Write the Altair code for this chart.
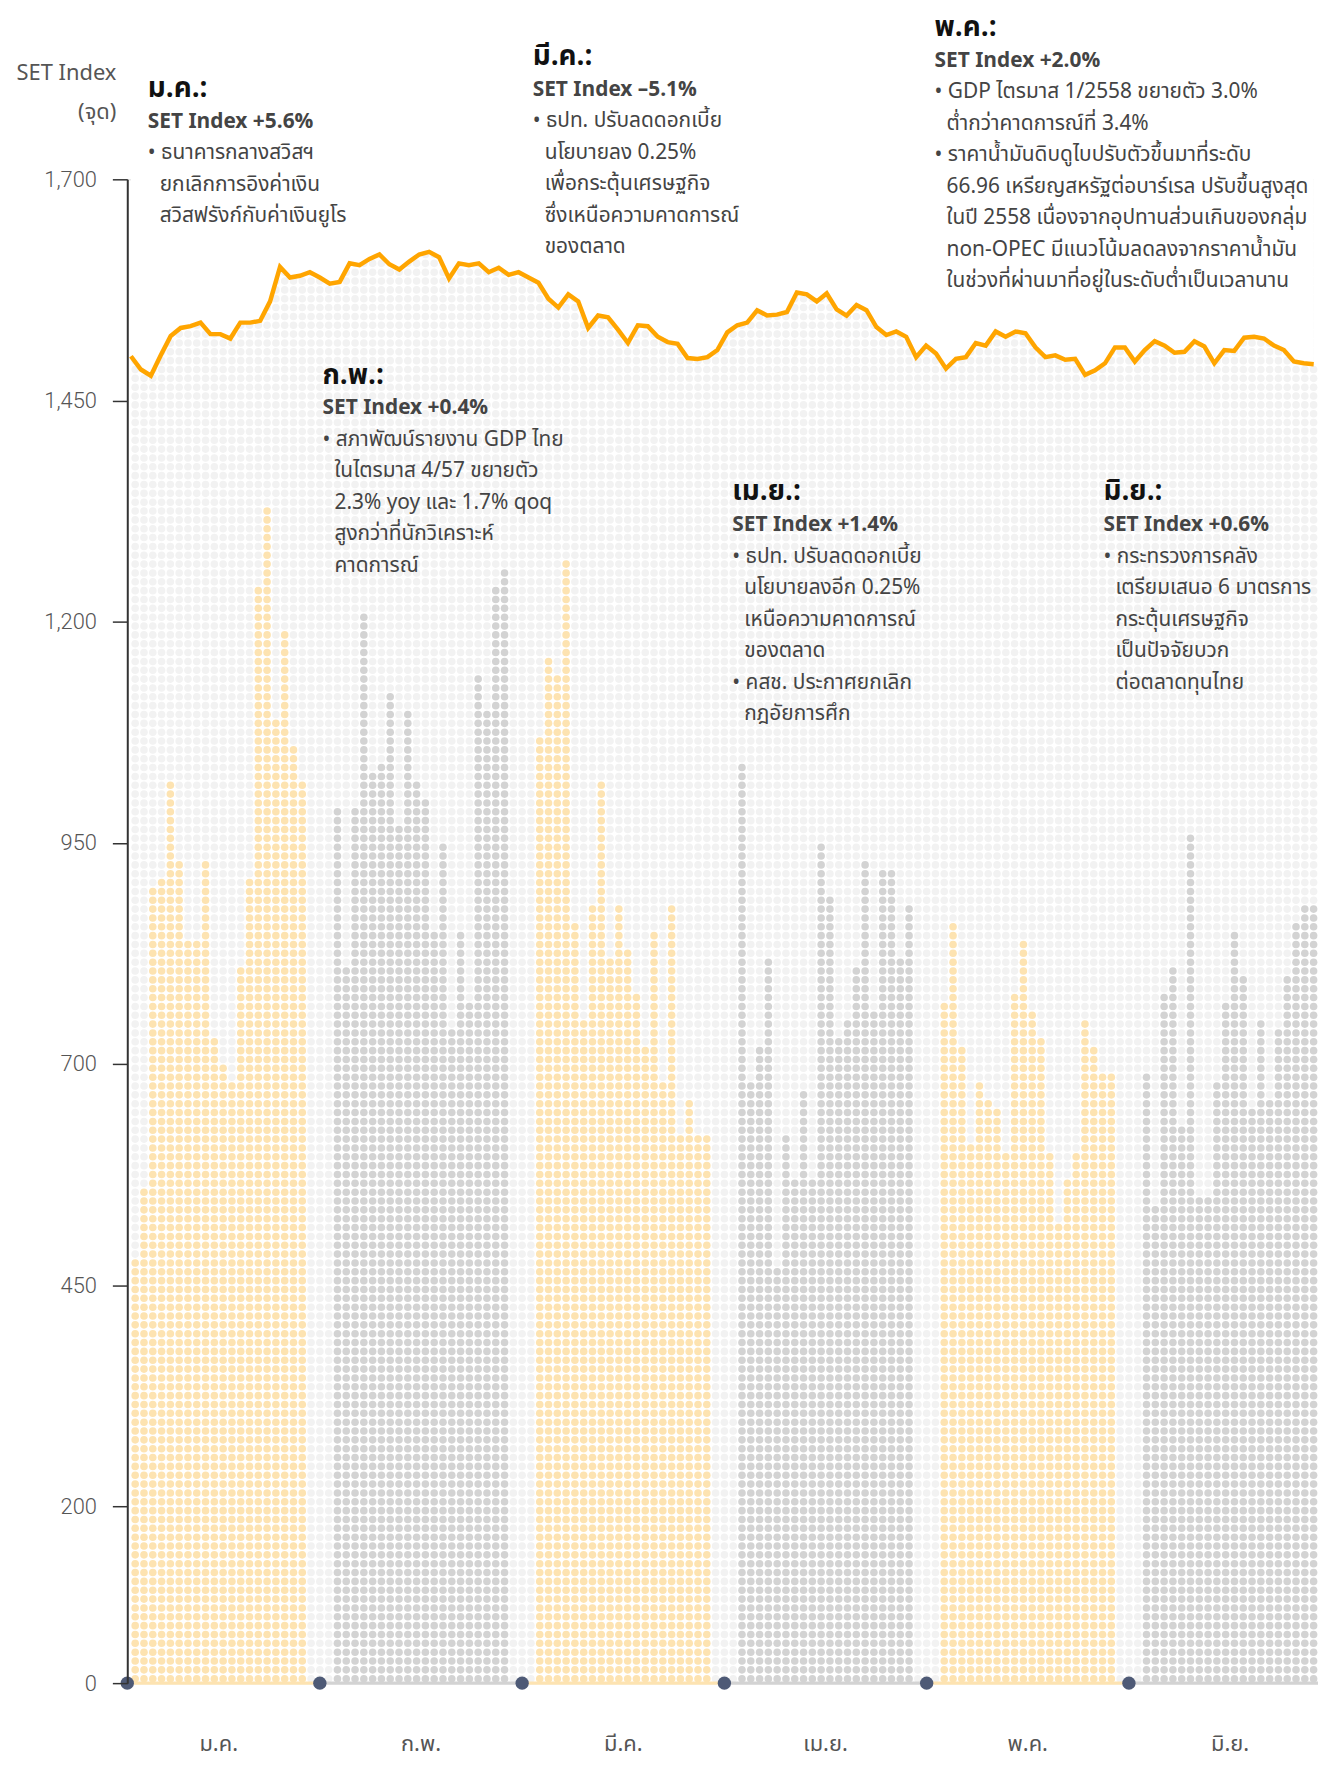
import altair as alt
import pandas as pd

alt.data_transformers.disable_max_rows()

# ---------------- data ----------------
month_names = ["ม.ค.", "ก.พ.", "มี.ค.", "เม.ย.", "พ.ค.", "มิ.ย."]

jan_vals = [481, 561, 896, 909, 1016, 928, 839, 839, 928, 729, 700, 681, 808, 909, 1244, 1327, 1086, 1187, 1057, 1019]
feb_vals = [987, 808, 987, 1206, 1029, 1035, 1116, 966, 1099, 1023, 1004, 846, 947, 738, 846, 770, 1137, 1099, 1244, 1257]
mar_vals = [1067, 1156, 1143, 1267, 858, 747, 877, 1016, 820, 877, 827, 776, 725, 848, 675, 877, 620, 662, 624, 618]
apr_vals = [1035, 681, 719, 820, 472, 624, 567, 668, 570, 947, 890, 732, 747, 810, 928, 757, 922, 915, 820, 877]
may_vals = [770, 865, 725, 611, 675, 662, 649, 599, 782, 839, 757, 732, 603, 523, 573, 599, 751, 719, 687, 694]
jun_vals = [687, 542, 776, 814, 630, 959, 554, 554, 681, 770, 846, 795, 649, 751, 662, 738, 795, 858, 884, 884]
bar_values = [jan_vals, feb_vals, mar_vals, apr_vals, may_vals, jun_vals]

set_index = [1500, 1485, 1478, 1501, 1523, 1532, 1534, 1538, 1525, 1525,
             1520, 1538, 1538, 1540, 1562, 1601, 1589, 1591, 1595, 1589,
             1582, 1584, 1605, 1603, 1610, 1615, 1604, 1598, 1607, 1615,
             1618, 1612, 1588, 1605, 1603, 1605, 1595, 1600, 1592, 1595,
             1589, 1583, 1565, 1555, 1570, 1562, 1532, 1546, 1544, 1530,
             1515, 1535, 1534, 1522, 1516, 1514, 1498, 1497, 1499, 1507,
             1527, 1535, 1538, 1552, 1546, 1547, 1550, 1572, 1570, 1562,
             1571, 1553, 1546, 1558, 1552, 1533, 1524, 1528, 1522, 1499,
             1512, 1503, 1486, 1497, 1499, 1515, 1512, 1528, 1522, 1528,
             1526, 1510, 1499, 1501, 1496, 1497, 1479, 1484, 1492, 1510,
             1510, 1494, 1507, 1517, 1512, 1504, 1505, 1517, 1511, 1492,
             1507, 1506, 1521, 1522, 1520, 1512, 1507, 1494, 1492, 1491]

y_ticks = [0, 200, 450, 700, 950, 1200, 1450, 1700]
y_title = ["SET Index", "(จุด)"]

notes_title = ["ม.ค.:", "ก.พ.:", "มี.ค.:", "เม.ย.:", "พ.ค.:", "มิ.ย.:"]
notes_sub = ["SET Index +5.6%", "SET Index +0.4%", "SET Index –5.1%",
             "SET Index +1.4%", "SET Index +2.0%", "SET Index +0.6%"]
notes_body = [
    ["• ธนาคารกลางสวิสฯ", "ยกเลิกการอิงค่าเงิน", "สวิสฟรังก์กับค่าเงินยูโร"],
    ["• สภาพัฒน์รายงาน GDP ไทย", "ในไตรมาส 4/57 ขยายตัว", "2.3% yoy และ 1.7% qoq",
     "สูงกว่าที่นักวิเคราะห์", "คาดการณ์"],
    ["• ธปท. ปรับลดดอกเบี้ย", "นโยบายลง 0.25%", "เพื่อกระตุ้นเศรษฐกิจ",
     "ซึ่งเหนือความคาดการณ์", "ของตลาด"],
    ["• ธปท. ปรับลดดอกเบี้ย", "นโยบายลงอีก 0.25%", "เหนือความคาดการณ์",
     "ของตลาด", "• คสช. ประกาศยกเลิก", "กฎอัยการศึก"],
    ["• GDP ไตรมาส 1/2558 ขยายตัว 3.0%", "ต่ำกว่าคาดการณ์ที่ 3.4%",
     "•  ราคาน้ำมันดิบดูไบปรับตัวขึ้นมาที่ระดับ", "66.96 เหรียญสหรัฐต่อบาร์เรล ปรับขึ้นสูงสุด",
     "ในปี 2558  เนื่องจากอุปทานส่วนเกินของกลุ่ม", "non-OPEC มีแนวโน้มลดลงจากราคาน้ำมัน",
     "ในช่วงที่ผ่านมาที่อยู่ในระดับต่ำเป็นเวลานาน"],
    ["• กระทรวงการคลัง", "เตรียมเสนอ 6 มาตรการ", "กระตุ้นเศรษฐกิจ",
     "เป็นปัจจัยบวก", "ต่อตลาดทุนไทย"],
]

# ---------------- layout (styling, not data) ----------------
MONTH_STEP = 23          # columns per month incl. gap
COLS = MONTH_STEP * 5 + 20
DOT = 10                 # value per dot
ROWS = 170
COL_DOMAIN = [-0.9, 134.5]
DAY_DOMAIN = [-0.37, 119.43]
note_anchor = [(1.43, 1802), (21.3, 1478), (45.2, 1838), (67.9, 1346), (90.9, 1871), (110.1, 1346)]
INDENT = 1.36
STEP_SUB = 37
STEP_LINE = 35.6

FONT = "Noto Sans Thai, Noto Sans, sans-serif"
YELLOW = "#fde3b1"
GREY = "#d3d3d3"
BG = "#f2f2f2"
ORANGE = "#ffa500"

# ---------------- tables ----------------
bar_rows, heights = [], {}
for i, vals in enumerate(bar_values):
    for j, v in enumerate(vals):
        c = MONTH_STEP * i + j
        n = int(round(v / DOT))
        heights[c] = n
        for r in range(n):
            bar_rows.append({"c": c, "y": r * DOT + DOT / 2, "t": "a" if i % 2 == 0 else "b"})
bars_df = pd.DataFrame(bar_rows)

bg_rows = []
for c in range(COLS):
    for r in range(heights.get(c, 0), ROWS):
        bg_rows.append({"c": c, "y": r * DOT + DOT / 2})
bg_df = pd.DataFrame(bg_rows)

line_df = pd.DataFrame({"k": list(range(len(set_index))), "v": set_index})
last_k = len(set_index) - 1

seg_df = pd.DataFrame({
    "b0": [COL_DOMAIN[0]] + [MONTH_STEP * i - 2 for i in range(1, 6)],
    "b1": [MONTH_STEP * i - 2 for i in range(1, 6)] + [COL_DOMAIN[1]],
    "t": ["a" if i % 2 == 0 else "b" for i in range(6)],
})
mlab_df = pd.DataFrame({"c": [MONTH_STEP * i + 9.5 for i in range(6)], "lab": month_names})

title_rows, sub_rows, body_rows = [], [], []
for i in range(6):
    x0, y0 = note_anchor[i]
    title_rows.append({"c": x0, "y": y0, "txt": notes_title[i]})
    sub_rows.append({"c": x0, "y": y0 - STEP_SUB, "txt": notes_sub[i]})
    for j, line in enumerate(notes_body[i]):
        xx = x0 if line.startswith("•") else x0 + INDENT
        body_rows.append({"c": xx, "y": y0 - STEP_SUB - STEP_LINE * (j + 1), "txt": line})
title_df, sub_df, body_df = pd.DataFrame(title_rows), pd.DataFrame(sub_rows), pd.DataFrame(body_rows)

# ---------------- scales / axis ----------------
col_scale = alt.Scale(domain=COL_DOMAIN, nice=False, zero=False)
day_scale = alt.Scale(domain=DAY_DOMAIN, nice=False, zero=False)
y_scale = alt.Scale(domain=[0, 1700], nice=False, zero=True)
tone_scale = alt.Scale(domain=["a", "b"], range=[YELLOW, GREY])
seg_scale = alt.Scale(domain=["a", "b"], range=[ORANGE, "#6b6b6b"])

yaxis = alt.Axis(values=y_ticks, format=",.0f", title=None, grid=False,
                 labelFontSize=22, labelColor="#555", labelFont="Roboto", labelFontWeight=300,
                 labelPadding=16, tickSize=15, tickColor="#333", tickWidth=1.5,
                 domainColor="#333", domainWidth=2, zindex=1)


def Y(field):
    return alt.Y(field, scale=y_scale, axis=yaxis)


def Y0():
    return alt.YDatum(0, scale=y_scale, axis=yaxis)


cx = alt.X("c:Q", scale=col_scale, axis=None)
dx = alt.X("k:Q", scale=day_scale, axis=None)

bg = alt.Chart(bg_df).mark_circle(size=58, opacity=1, color=BG).encode(x=cx, y=Y("y:Q"))

mask = alt.Chart(line_df).mark_area(color="white", opacity=1).encode(
    x=dx, y=Y("v:Q"), y2=alt.datum(1720))

mask_edge = alt.Chart(line_df).transform_filter(alt.datum.k == last_k).mark_rect(color="white").encode(
    x=dx, x2=alt.datum(DAY_DOMAIN[1] + 2), y=Y("v:Q"), y2=alt.datum(1720))

bars = alt.Chart(bars_df).mark_circle(size=58, opacity=1).encode(
    x=cx, y=Y("y:Q"), color=alt.Color("t:N", scale=tone_scale, legend=None))

line = alt.Chart(line_df).mark_line(color=ORANGE, strokeWidth=4.5).encode(x=dx, y=Y("v:Q"))

segs = alt.Chart(seg_df).mark_rule(strokeWidth=3.5).encode(
    x=alt.X("b0:Q", scale=col_scale, axis=None), x2="b1:Q", y=Y0(),
    color=alt.Color("t:N", scale=seg_scale, legend=None))

knots = alt.Chart(seg_df).mark_circle(size=180, opacity=1, color="#4e5a76").encode(
    x=alt.X("b0:Q", scale=col_scale, axis=None), y=Y0())

mlabels = alt.Chart(mlab_df).mark_text(font=FONT, fontSize=22, color="#555", dy=61,
                                       baseline="middle", align="center").encode(
    x=cx, y=Y0(), text="lab:N")

titles = alt.Chart(title_df).mark_text(font=FONT, fontSize=28, fontWeight="bold", color="#111",
                                       align="left", baseline="middle").encode(x=cx, y=Y("y:Q"), text="txt:N")
subs = alt.Chart(sub_df).mark_text(font=FONT, fontSize=21, fontWeight="bold", color="#444",
                                   align="left", baseline="middle").encode(x=cx, y=Y("y:Q"), text="txt:N")
body = alt.Chart(body_df).mark_text(font=FONT, fontSize=21, color="#444",
                                    align="left", baseline="middle").encode(x=cx, y=Y("y:Q"), text="txt:N")

yt1 = alt.Chart(pd.DataFrame({"txt": [y_title[0]]})).mark_text(
    font=FONT, fontSize=22, color="#555", align="right", baseline="middle").encode(
    x=alt.value(-11), y=alt.value(-107), text="txt:N")
yt2 = alt.Chart(pd.DataFrame({"txt": [y_title[1]]})).mark_text(
    font=FONT, fontSize=22, color="#555", align="right", baseline="middle").encode(
    x=alt.value(-11), y=alt.value(-68), text="txt:N")

chart = alt.layer(bg, mask, mask_edge, bars, line, segs, knots, mlabels, titles, subs, body, yt1, yt2).resolve_scale(
    x="independent"
).properties(
    width=1198, height=1513,
    autosize=alt.AutoSizeParams(type="none"),
    padding={"left": 120, "top": 167, "right": 0, "bottom": 76},
).configure_view(stroke=None).configure(background="white")

chart.save("out.html", embed_options={"renderer": "svg", "actions": False})
